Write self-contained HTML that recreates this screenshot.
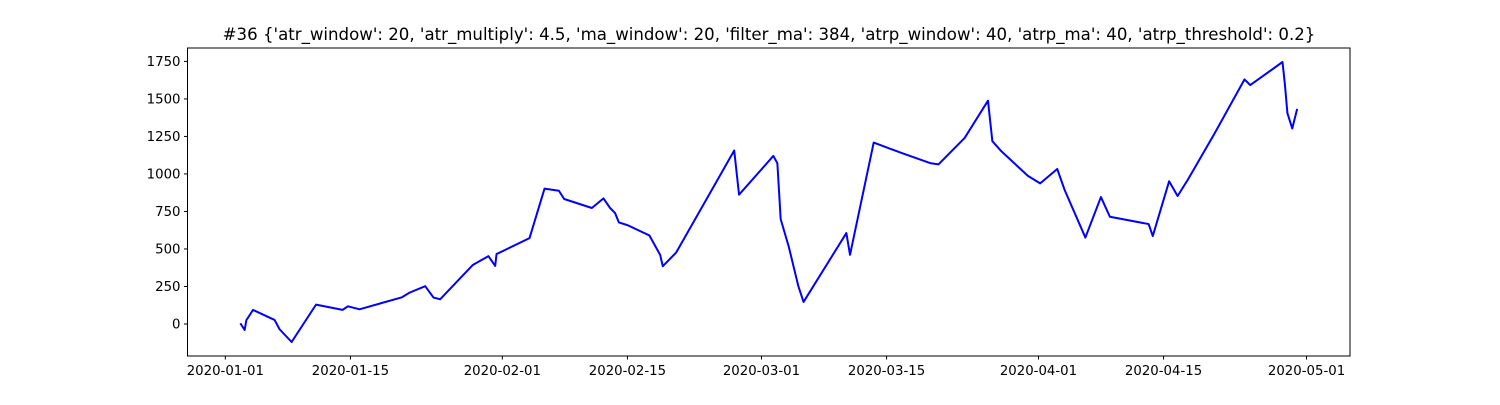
<!DOCTYPE html>
<html><head><meta charset="utf-8"><style>
html,body{margin:0;padding:0;background:#fff;}
svg text{font-family:"DejaVu Sans","Liberation Sans",sans-serif;fill:#000;}
</style></head><body>
<svg id="chart" width="1500" height="400" viewBox="0 0 1500 400" xmlns="http://www.w3.org/2000/svg">
<rect width="1500" height="400" fill="#fff"/>
<text x="769" y="40" font-size="16.6" text-anchor="middle">#36 {'atr_window': 20, 'atr_multiply': 4.5, 'ma_window': 20, 'filter_ma': 384, 'atrp_window': 40, 'atrp_ma': 40, 'atrp_threshold': 0.2}</text>
<g id="plot"></g>
</svg>
<script>
// days since 2020-01-01
const days = [1.68,2.16,2.35,3.10,5.51,6.07,7.42,10.15,13.12,13.72,15.02,19.77,20.62,22.37,23.30,24.05,27.71,29.45,30.20,30.35,34.04,35.72,37.33,37.92,41.02,42.32,43.06,43.62,44.04,45.00,47.46,48.66,48.96,50.45,56.95,57.49,61.33,61.78,62.15,63.06,64.12,64.71,69.50,69.91,72.56,75.75,78.95,79.82,82.74,85.35,85.84,86.85,89.82,91.19,93.10,93.93,96.25,97.99,98.99,103.33,103.79,105.62,106.57,107.72,110.68,114.06,114.70,118.31,118.57,118.86,119.40,119.95];
const values = [5,-40,25,94,27,-35,-120,129,94,118,98,178,209,252,176,165,394,452,387,466,572,902,888,833,773,837,773,739,677,659,590,461,385,476,1156,862,1120,1071,699,514,254,147,606,461,1209,1138,1071,1064,1240,1488,1218,1151,987,937,1033,893,576,846,715,666,586,951,853,962,1267,1630,1592,1746,1601,1405,1303,1434];
const yTicks = [0,250,500,750,1000,1250,1500,1750];
const xTickLabels = ["2020-01-01","2020-01-15","2020-02-01","2020-02-15","2020-03-01","2020-03-15","2020-04-01","2020-04-15","2020-05-01"];
const xTickDays = [0,14,31,45,60,74,91,105,121];

const L=187.5,R=1350,T=48,B=356;
const dMin=Math.min(...days),dMax=Math.max(...days),dPad=(dMax-dMin)*0.05;
const vMin=Math.min(...values),vMax=Math.max(...values),vPad=(vMax-vMin)*0.05;
const xs=d=>L+(d-(dMin-dPad))/((dMax+dPad)-(dMin-dPad))*(R-L);
const ys=v=>B-(v-(vMin-vPad))/((vMax+vPad)-(vMin-vPad))*(B-T);
const NS="http://www.w3.org/2000/svg";
const g=document.getElementById('plot');
function mk(tag,attrs){const e=document.createElementNS(NS,tag);for(const k in attrs)e.setAttribute(k,attrs[k]);g.appendChild(e);return e;}

const line=mk('polyline',{points:days.map((d,i)=>xs(d).toFixed(2)+','+ys(values[i]).toFixed(2)).join(' '),fill:'none',stroke:'#0000ff','stroke-width':2,'stroke-linejoin':'round'});



const frame=mk('rect',{x:L,y:T,width:R-L,height:B-T,fill:'none',stroke:'#000','stroke-width':1});



yTicks.forEach(v=>{
  const y=ys(v);
  const t=mk('line',{x1:L-3.5,x2:L,y1:y,y2:y,stroke:'#000','stroke-width':1});
  
  
  const lb=mk('text',{x:L-7,y:y+4.5,'font-size':13.3,'text-anchor':'end'});
  lb.textContent=v;
  
  
});
xTickDays.forEach((d,i)=>{
  const x=xs(d);
  const t=mk('line',{x1:x,x2:x,y1:B,y2:B+3.5,stroke:'#000','stroke-width':1});
  
  
  const lb=mk('text',{x:x,y:B+19,'font-size':13.3,'text-anchor':'middle'});
  lb.textContent=xTickLabels[i];
  
  
});
</script>
</body></html>
